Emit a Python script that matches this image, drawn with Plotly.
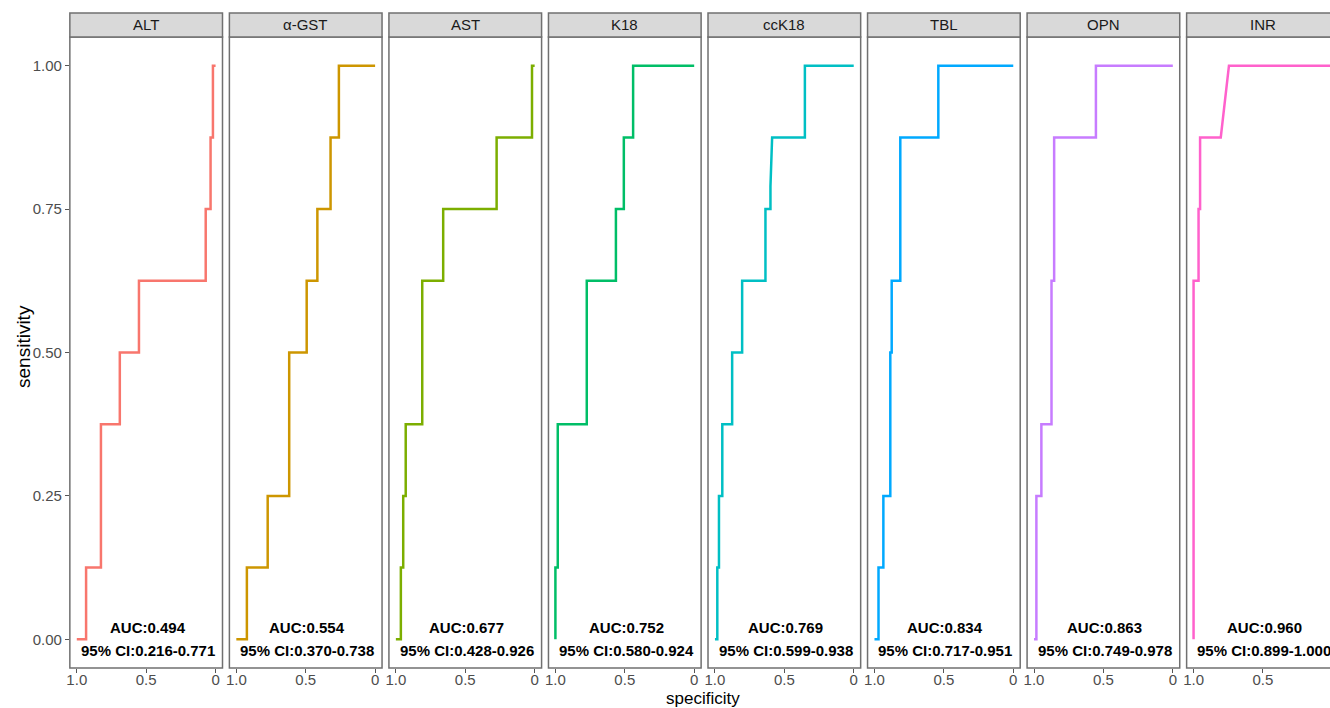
import plotly.graph_objects as go

W, H = 1330, 708

markers = ["ALT", "α-GST", "AST", "K18", "ccK18", "TBL", "OPN", "INR"]
colors = ["#F8766D", "#CD9600", "#7CAE00", "#00BE67", "#00BFC4", "#00A9FF", "#C77CFF", "#FF61CC"]
auc = ["0.494", "0.554", "0.677", "0.752", "0.769", "0.834", "0.863", "0.960"]
ci = ["0.216-0.771", "0.370-0.738", "0.428-0.926", "0.580-0.924",
      "0.599-0.938", "0.717-0.951", "0.749-0.978", "0.899-1.000"]

ALT_spec = [1.0, 0.933, 0.933, 0.826, 0.826, 0.690, 0.690, 0.552, 0.552, 0.071, 0.071, 0.036, 0.036, 0.019, 0.019, 0.0]
ALT_sens = [0, 0, 0.125, 0.125, 0.375, 0.375, 0.5, 0.5, 0.625, 0.625, 0.75, 0.75, 0.875, 0.875, 1.0, 1.0]

GST_spec = [1.0, 0.924, 0.924, 0.774, 0.774, 0.619, 0.619, 0.493, 0.493, 0.416, 0.416, 0.321, 0.321, 0.261, 0.261, 0.0]
GST_sens = [0, 0, 0.125, 0.125, 0.25, 0.25, 0.5, 0.5, 0.625, 0.625, 0.75, 0.75, 0.875, 0.875, 1.0, 1.0]

AST_spec = [1.0, 0.964, 0.964, 0.947, 0.947, 0.929, 0.929, 0.810, 0.810, 0.659, 0.659, 0.274, 0.274, 0.019, 0.019, 0.0]
AST_sens = [0, 0, 0.125, 0.125, 0.25, 0.25, 0.375, 0.375, 0.625, 0.625, 0.75, 0.75, 0.875, 0.875, 1.0, 1.0]

K18_spec = [1.0, 1.0, 0.983, 0.983, 0.774, 0.774, 0.564, 0.564, 0.507, 0.507, 0.440, 0.440, 0.0]
K18_sens = [0, 0.125, 0.125, 0.375, 0.375, 0.625, 0.625, 0.75, 0.75, 0.875, 0.875, 1.0, 1.0]

ccK18_spec = [1.0, 0.983, 0.983, 0.971, 0.971, 0.947, 0.947, 0.876, 0.876, 0.804, 0.804, 0.636, 0.636,
              0.600, 0.600, 0.593, 0.588, 0.352, 0.352, 0.0]
ccK18_sens = [0, 0, 0.125, 0.125, 0.25, 0.25, 0.375, 0.375, 0.5, 0.5, 0.625, 0.625, 0.75,
              0.75, 0.79, 0.83, 0.875, 0.875, 1.0, 1.0]

TBL_spec = [1.0, 0.971, 0.971, 0.936, 0.936, 0.886, 0.886, 0.876, 0.876, 0.814, 0.814, 0.540, 0.540, 0.0]
TBL_sens = [0, 0, 0.125, 0.125, 0.25, 0.25, 0.5, 0.5, 0.625, 0.625, 0.875, 0.875, 1.0, 1.0]

OPN_spec = [1.0, 0.983, 0.983, 0.947, 0.947, 0.874, 0.874, 0.855, 0.855, 0.554, 0.554, 0.0]
OPN_sens = [0, 0, 0.25, 0.25, 0.375, 0.375, 0.625, 0.625, 0.875, 0.875, 1.0, 1.0]

INR_spec = [1.0, 1.0, 0.964, 0.964, 0.953, 0.953, 0.804, 0.745, 0.0]
INR_sens = [0, 0.625, 0.625, 0.75, 0.75, 0.875, 0.875, 1.0, 1.0]

spec_data = [ALT_spec, GST_spec, AST_spec, K18_spec, ccK18_spec, TBL_spec, OPN_spec, INR_spec]
sens_data = [ALT_sens, GST_sens, AST_sens, K18_sens, ccK18_sens, TBL_sens, OPN_sens, INR_sens]

y_ticks = [0, 0.25, 0.5, 0.75, 1.0]
y_ticktext = ["0.00", "0.25", "0.50", "0.75", "1.00"]
x_ticks = [1.0, 0.5, 0]
x_ticktext = ["1.0", "0.5", "0"]

# layout geometry (pixels)
panel_left0 = 67.0
pitch = 159.9
panel_w = 153.0
top_px, bot_px = 37.0, 668.0
strip_top = 13.0
px_per_unit = panel_w / 1.1

fig = go.Figure()
shapes = []
annotations = []
FONT = "Liberation Sans, Arial"
tickfont = dict(family=FONT, size=15, color="#4D4D4D")

ydom = [1 - bot_px / H, 1 - top_px / H]

for i, m in enumerate(markers):
    left = panel_left0 + pitch * i
    right = left + panel_w
    vis_right = min(right, W)
    xr_hi = 1.05
    xr_lo = 1.05 - (vis_right - left) / px_per_unit
    sfx = "" if i == 0 else str(i + 1)
    xa = "x" + sfx
    ya = "y" + sfx
    fig.add_trace(go.Scatter(
        x=spec_data[i], y=sens_data[i], mode="lines",
        line=dict(color=colors[i], width=2.5), xaxis=xa, yaxis=ya,
        showlegend=False, hoverinfo="skip"))
    fig.layout["xaxis" + sfx] = dict(
        domain=[left / W, vis_right / W], range=[xr_hi, xr_lo], anchor=ya,
        tickvals=x_ticks, ticktext=x_ticktext, ticks="outside", ticklen=4,
        tickcolor="#555555", tickwidth=1, tickfont=tickfont, ticklabelstandoff=-6,
        showgrid=False, zeroline=False, showline=False)
    fig.layout["yaxis" + sfx] = dict(
        domain=ydom, range=[-0.05, 1.05], anchor=xa,
        tickvals=y_ticks, ticktext=y_ticktext,
        ticks="outside" if i == 0 else "", ticklen=4, tickcolor="#555555",
        showticklabels=(i == 0), tickfont=tickfont,
        showgrid=False, zeroline=False, showline=False)
    # panel border
    shapes.append(dict(type="rect", xref="paper", yref="paper",
                       x0=left / W, x1=right / W, y0=ydom[0], y1=ydom[1],
                       line=dict(color="#707070", width=1.5), fillcolor="rgba(0,0,0,0)",
                       layer="above"))
    # strip
    shapes.append(dict(type="rect", xref="paper", yref="paper",
                       x0=left / W, x1=right / W, y0=ydom[1], y1=1 - strip_top / H,
                       line=dict(color="#707070", width=1.5), fillcolor="#D9D9D9",
                       layer="above"))
    annotations.append(dict(text=m, xref="paper", yref="paper",
                            x=(left + right) / 2 / W, y=1 - (strip_top + top_px) / 2 / H,
                            showarrow=False, xanchor="center", yanchor="middle",
                            font=dict(family=FONT, size=15, color="#1A1A1A")))
    # AUC text
    annotations.append(dict(text="<b>AUC:" + auc[i] + "</b>", xref=xa, yref=ya,
                            x=0.49, y=0.021, showarrow=False, xanchor="center", yanchor="middle",
                            font=dict(family=FONT, size=15, color="black")))
    annotations.append(dict(text="<b>95% CI:" + ci[i] + "</b>", xref=xa, yref=ya,
                            x=0.49, y=-0.019, showarrow=False, xanchor="center", yanchor="middle",
                            font=dict(family=FONT, size=15, color="black")))

annotations.append(dict(text="sensitivity", xref="paper", yref="paper",
                        x=20 / W, y=1 - 346 / H, textangle=-90, showarrow=False,
                        xanchor="center", yanchor="middle",
                        font=dict(family=FONT, size=19, color="black")))
annotations.append(dict(text="specificity", xref="paper", yref="paper",
                        x=702 / W, y=1 - 698 / H, showarrow=False,
                        xanchor="center", yanchor="middle",
                        font=dict(family=FONT, size=17, color="black")))

fig.update_layout(
    width=W, height=H, autosize=False,
    margin=dict(l=0, r=0, t=0, b=0),
    paper_bgcolor="white", plot_bgcolor="white",
    shapes=shapes, annotations=annotations,
)

fig.write_html("out.html", config={"displayModeBar": False},
               post_script="document.body.style.margin='0';document.body.style.overflow='hidden';")
